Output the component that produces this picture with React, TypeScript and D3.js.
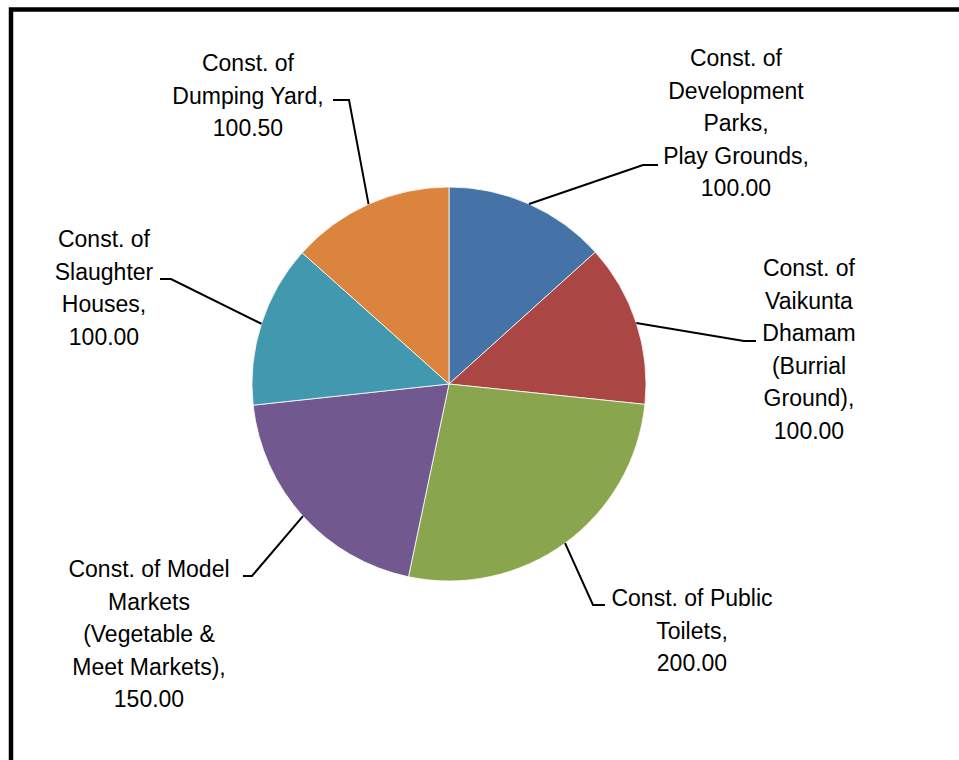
import React from "react";
import * as d3 from "d3";

const categories = [
  "Const. of Development Parks, Play Grounds",
  "Const. of Vaikunta Dhamam (Burrial Ground)",
  "Const. of Public Toilets",
  "Const. of Model Markets (Vegetable & Meet Markets)",
  "Const. of Slaughter Houses",
  "Const. of Dumping Yard",
];
const values = [100.0, 100.0, 200.0, 150.0, 100.0, 100.5];
const colors = ["#4572A7", "#AA4643", "#89A54E", "#71588F", "#4198AF", "#DB843D"];
const labelLines = [
  ["Const. of", "Development", "Parks,", "Play Grounds,"],
  ["Const. of", "Vaikunta", "Dhamam", "(Burrial", "Ground),"],
  ["Const. of Public", "Toilets,"],
  ["Const. of Model", "Markets", "(Vegetable &", "Meet Markets),"],
  ["Const. of", "Slaughter", "Houses,"],
  ["Const. of", "Dumping Yard,"],
];

// label layout: elbow point, horizontal end, text center x, first line center y
const labelLayout = [
  { ex: 643, ey: 165, hx: 658, tx: 736, ty: 58 },
  { ex: 744, ey: 341, hx: 756, tx: 809, ty: 268 },
  { ex: 593, ey: 605, hx: 605, tx: 692, ty: 598 },
  { ex: 252, ey: 576, hx: 243, tx: 149, ty: 569 },
  { ex: 171, ey: 279, hx: 160, tx: 104, ty: 239 },
  { ex: 349, ey: 100, hx: 333, tx: 248, ty: 63 },
];

const W = 959;
const H = 760;
const cx = 449;
const cy = 384;
const R = 197;
const lineH = 32.5;

export default function App() {
  const pie = d3.pie<number>().sort(null).value((d) => d)(values);
  const arc = d3.arc<d3.PieArcDatum<number>>().innerRadius(0).outerRadius(R);
  const fmt = d3.format(".2f");

  return (
    <svg
      width={W}
      height={H}
      style={{ position: "absolute", left: 0, top: 0, background: "#fff" }}
      fontFamily="'Liberation Sans', Arial, sans-serif"
      fontSize={23}
    >
      <rect x={0} y={0} width={W} height={H} fill="#fff" />
      <rect x={11} y={9.5} width={W + 20} height={H + 20} fill="none" stroke="#000" strokeWidth={4.5} />
      <g transform={`translate(${cx},${cy})`}>
        {pie.map((p, i) => (
          <path key={i} d={arc(p) || ""} fill={colors[i]} stroke="#fff" strokeWidth={0.8} />
        ))}
      </g>
      {pie.map((p, i) => {
        const a = (p.startAngle + p.endAngle) / 2;
        const sx = cx + R * Math.sin(a);
        const sy = cy - R * Math.cos(a);
        const L = labelLayout[i];
        const lines = [...labelLines[i], fmt(values[i])];
        return (
          <g key={"l" + i}>
            <polyline
              points={`${sx},${sy} ${L.ex},${L.ey} ${L.hx},${L.ey}`}
              fill="none"
              stroke="#000"
              strokeWidth={2}
            />
            <text textAnchor="middle" fill="#000">
              {lines.map((t, j) => (
                <tspan key={j} x={L.tx} y={L.ty + j * lineH} dy="0.35em">
                  {t}
                </tspan>
              ))}
            </text>
          </g>
        );
      })}
    </svg>
  );
}
